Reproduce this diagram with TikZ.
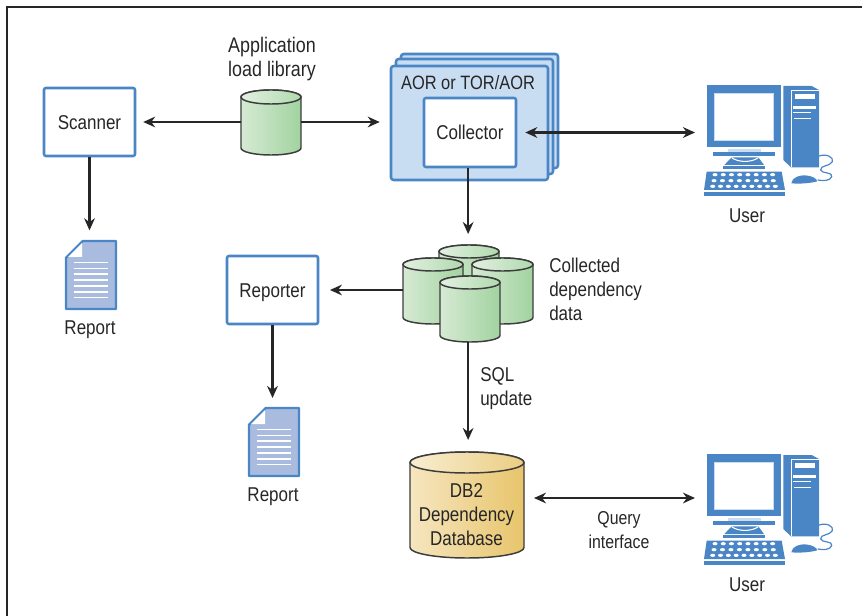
\documentclass[tikz,border=0pt]{standalone}
\usepackage{fontspec}
\setmainfont[FakeStretch=0.85]{Liberation Sans}
\usetikzlibrary{arrows.meta}
\definecolor{ink}{HTML}{262626}
\definecolor{bluel}{HTML}{4A86C6}
\definecolor{aorfill}{HTML}{C9DDF2}
\definecolor{docfill}{HTML}{A9BBDF}
\definecolor{grl}{HTML}{D6EAD4}
\definecolor{grr}{HTML}{A2D3A0}
\definecolor{yel}{HTML}{F6E6BF}
\definecolor{yer}{HTML}{E8C56C}
\tikzset{
  lbl/.style={font=\fontsize{15}{18}\selectfont, text=ink, inner sep=0pt, align=center, yshift=-1.1pt},
  lbll/.style={lbl, align=left},
  conn/.style={draw=ink, line width=1.7pt},
  arr/.style={conn, -{Stealth[length=9pt,width=8pt]}},
  darr/.style={conn, {Stealth[length=9pt,width=8pt]}-{Stealth[length=9pt,width=8pt]}},
  bluebox/.style={draw=bluel, line width=1.9pt, rounded corners=1.5pt, fill=white, inner sep=0pt},
  boxtext/.style={lbl, yshift=1.1pt, text height=10.8pt, text depth=0pt},
  aorbox/.style={draw=bluel, line width=1.9pt, rounded corners=2pt, fill=aorfill},
  cylline/.style={draw=ink!90, line width=1.1pt},
  ghost/.style={inner sep=0pt, outer sep=0pt},
}
% name, x1, x2, top, bottom, ry, left colour, right colour
\newcommand{\mycyl}[8]{%
  \pgfmathsetmacro{\cylcx}{(#2+#3)/2}%
  \pgfmathsetmacro{\cylrx}{(#3-#2)/2}%
  \pgfmathsetmacro{\cyltc}{#4+#6}%
  \pgfmathsetmacro{\cylbc}{#5-#6}%
  \pgfmathsetmacro{\cylcy}{(#4+#5)/2}%
  \pgfmathsetmacro{\cylw}{#3-#2}%
  \pgfmathsetmacro{\cylh}{#5-#4}%
  \path[cylline, left color=#7, right color=#8]
    (#2,\cyltc) -- (#2,\cylbc) arc[start angle=180,end angle=360,x radius=\cylrx*0.75pt,y radius=#6*0.75pt]
    -- (#3,\cyltc) arc[start angle=0,end angle=180,x radius=\cylrx*0.75pt,y radius=#6*0.75pt] -- cycle;
  \path[cylline, left color=#7!70!white, right color=#8!85!white]
    (\cylcx,\cyltc) ellipse[x radius=\cylrx*0.75pt,y radius=#6*0.75pt];
  \node[ghost, minimum width=\cylw*0.75pt, minimum height=\cylh*0.75pt] (#1) at (\cylcx,\cylcy) {};
}
% name, left, top
\newcommand{\mydoc}[3]{%
  \begin{scope}[shift={(#2,#3)}]
    \draw[draw=bluel, line width=1.8pt, fill=docfill, line join=round]
      (16.7,0) -- (50,0) -- (50,68) -- (0,68) -- (0,16.7) -- cycle;
    \fill[white] (16,2) -- (16,16) -- (2,16) -- cycle;
    \foreach \yy in {21.6,27.6,33.3,39.3,45.3,51,56.6}
      \draw[white, line width=1.3pt] (8.3,\yy) -- (42.3,\yy);
    \node[ghost, minimum width=37.5pt, minimum height=51pt] (#1) at (25,34) {};
  \end{scope}
}
% y offset
\newcommand{\mycomputer}[1]{%
  \begin{scope}[shift={(690,70+#1)}, x=0.25pt, y=-0.25pt]
    \fill[bluel] (52,45) rectangle (272,230);
    \fill[white] (73,70) rectangle (250,210);
    \draw[aorfill, line width=.5pt] (72,69) rectangle (251,211);
    \fill[aorfill] (115,238) rectangle (212,245);
    \fill[bluel] (70,245) rectangle (255,258);
    \fill[bluel] (125,262) -- (205,262) -- (222,285) -- (103,285) -- cycle;
    \draw[white, line width=.8pt] (125,263) .. controls (145,278) and (185,278) .. (205,263);
    \fill[bluel] (100,287) rectangle (225,298);
    \fill[bluel] (50,305) -- (275,305) -- (285,360) -- (42,360) -- cycle;
    \fill[bluel] (42,365) rectangle (285,378);
    \foreach \i in {0,...,7} {
      \fill[white] (75+\i*24.7,314) ellipse[x radius=1.9pt,y radius=1.2pt];
      \fill[white] (72+\i*25.4,332) ellipse[x radius=1.9pt,y radius=1.2pt];
    }
    \foreach \i in {0,...,8}
      \fill[white] (68+\i*23.5,349) ellipse[x radius=1.9pt,y radius=1.2pt];
    \fill[bluel] (280,48) -- (365,48) -- (387,60) -- (387,292) -- (303,292) -- (280,270) -- cycle;
    \draw[white, line width=.5pt] (303,60) -- (303,292);
    \draw[white, line width=.5pt] (303,60) -- (387,60);
    \fill[white] (315,72) rectangle (375,88);
    \fill[white] (308,107) rectangle (378,117);
    \draw[white, line width=.7pt] (310,127) -- (362,127);
    \draw[white, line width=.7pt] (312,146) -- (362,146);
    \fill[bluel] (304,340) .. controls (305,322) and (330,315) .. (345,316) .. controls (365,317) and (380,325) .. (382,334) .. controls (360,340) and (330,342) .. (304,340) -- cycle;
    \draw[bluel, line width=.9pt] (387,258) .. controls (410,250) and (432,262) .. (427,275) .. controls (420,290) and (390,285) .. (392,300) .. controls (395,312) and (430,305) .. (425,320) .. controls (420,333) and (400,333) .. (383,330);
  \end{scope}
}
\begin{document}
\begin{tikzpicture}[x=0.75pt,y=-0.75pt]
\useasboundingbox (0,0) rectangle (862,616);
\draw[ink, line width=1.9pt] (7,616) -- (7,7) -- (862,7);

% AOR stack
\draw[aorbox] (401,54) rectangle (558,168);
\draw[aorbox] (396,59) rectangle (553,174);
\node[aorbox, inner sep=0pt, minimum width=117.75pt, minimum height=85.5pt] (aor) at (469.5,123) {};
\node[lbl, font=\fontsize{14.5}{18}\selectfont] (aorlabel) at (468,81) {AOR or TOR/AOR};
\node[bluebox, minimum width=69pt, minimum height=51.75pt, boxtext] (collector) at (470,132.5) {Collector};

\node[bluebox, minimum width=68.25pt, minimum height=51pt, boxtext] (scanner) at (89.5,122) {Scanner};
\node[bluebox, minimum width=68.25pt, minimum height=51pt, boxtext] (reporter) at (272.5,290) {Reporter};

\mycyl{lib}{241}{301}{90}{155}{7}{grl}{grr}
\node[lbl, font=\fontsize{15.8}{18}\selectfont] (liblabel) at (272,58) {Application\\load library};

% collected data
\mycyl{cb}{439}{499}{245}{300}{6.5}{grl}{grr}
\mycyl{cl}{403}{463}{258}{324}{6.5}{grl}{grr}
\mycyl{cr}{472}{533}{258}{324}{6.5}{grl}{grr}
\mycyl{cf}{440}{500}{276}{342}{6.5}{grl}{grr}
\node[lbll, anchor=west] (clabel) at (549,288) {Collected\\dependency\\data};

\mycyl{db}{410}{524}{452}{558}{10.5}{yel}{yer}
\node[lbl] (dblabel) at (466.5,513.5) {DB2\\Dependency\\Database};

\mydoc{doca}{66}{241}
\mydoc{docb}{249}{408}
\node[lbl] (repa) at (90,328) {Report};
\node[lbl] (repb) at (273,495) {Report};

\mycomputer{0}
\mycomputer{369}
\coordinate (usera) at (695,132.5);
\coordinate (userb) at (695,498);
\node[lbl] (ulabela) at (747,214) {User};
\node[lbl] (ulabelb) at (747,583) {User};
\node[lbll, anchor=west] (sqllabel) at (480,387) {SQL\\update};
\node[lbl, font=\fontsize{14}{18}\selectfont] (qlabel) at (619,529) {Query\\interface};

% connectors
\draw[arr, shorten >=5.2pt] (lib.west |- scanner.east) -- (scanner.east);
\draw[arr, shorten >=7.5pt] (lib.east |- scanner.east) -- (aor.west |- scanner.east);
\draw[arr, shorten >=8pt] (scanner.south) -- (scanner.south |- doca.north);
\draw[arr, shorten >=7.5pt] (reporter.south) -- (reporter.south |- docb.north);
\draw[darr, shorten <=6pt] (collector.east) -- (usera);
\draw[arr, shorten >=8.2pt] ([xshift=-1.4pt]collector.south) -- ([xshift=-1.4pt]collector.south |- cb.north);
\draw[arr, shorten >=8pt] (cl.west |- reporter.east) -- (reporter.east);
\draw[arr, shorten >=9pt] ([xshift=-1.4pt]cf.south) -- ([xshift=-1.4pt]cf.south |- db.north);
\draw[darr, shorten <=7.5pt] (db.east |- userb) -- (userb);
\end{tikzpicture}
\end{document}
